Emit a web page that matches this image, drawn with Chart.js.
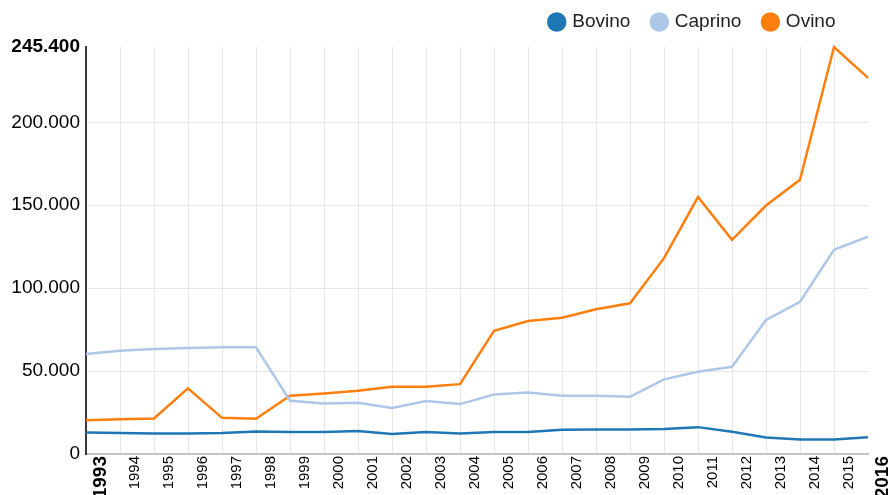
<!DOCTYPE html>
<html>
<head>
<meta charset="utf-8">
<script src="https://cdn.jsdelivr.net/npm/chart.js@4.4.1/dist/chart.umd.min.js"></script>
<style>
  html, body { margin: 0; padding: 0; background: #fff; }
  #wrap { width: 896px; height: 495px; position: relative; }
</style>
</head>
<body>
<div id="wrap"><canvas id="chart"></canvas></div>
<script>
const years = ["1993", "1994", "1995", "1996", "1997", "1998", "1999", "2000", "2001", "2002", "2003", "2004",
  "2005", "2006", "2007", "2008", "2009", "2010", "2011", "2012", "2013", "2014", "2015", "2016"];

const bovino = [13000, 12700, 12400, 12400, 12600, 13600, 13200, 13300, 13900, 12000, 13300, 12400,
  13300, 13300, 14600, 14800, 14800, 15000, 16200, 13400, 10000, 8800, 8800, 10100];

const caprino = [60300, 62300, 63300, 63900, 64300, 64300, 32100, 30500, 30900, 27800, 31900, 30100,
  35900, 37100, 35100, 35100, 34500, 45000, 49600, 52600, 80800, 91800, 123100, 131100];

const ovino = [20400, 21000, 21400, 39600, 21800, 21200, 35100, 36500, 38100, 40500, 40500, 42100,
  74300, 80200, 82200, 87300, 90900, 118100, 154900, 129100, 149800, 165300, 245400, 226800];

const yTicks = [0, 50000, 100000, 150000, 200000, 245400];

const fmt = (v) => String(v).replace(/\B(?=(\d{3})+(?!\d))/g, ".");
const FONT = "'Liberation Sans', Arial, sans-serif";

// sposta la legenda un po' a sinistra e in alto
const legendShift = {
  id: "legendShift",
  afterLayout(chart) {
    const lg = chart.legend;
    if (!lg) return;
    lg.left -= 9.5; lg.right -= 9.5;
    lg.top -= 5.5; lg.bottom -= 5.5;
  }
};

const line = (label, data, color) => ({
  label: label,
  data: data,
  borderColor: color,
  backgroundColor: color,
  borderWidth: 2.5,
  pointRadius: 0,
  pointHoverRadius: 0,
  tension: 0,
  fill: false,
  clip: 6,
});

new Chart(document.getElementById("chart").getContext("2d"), {
  type: "line",
  plugins: [legendShift],
  data: {
    labels: years,
    datasets: [
      line("Bovino", bovino, "#1f77b4"),
      line("Caprino", caprino, "#aec7e8"),
      line("Ovino", ovino, "#ff7f0e"),
    ],
  },
  options: {
    responsive: true,
    maintainAspectRatio: false,
    animation: false,
    layout: { padding: { top: -5, right: 28, left: 0, bottom: 0 } },
    plugins: {
      tooltip: { enabled: false },
      legend: {
        display: true,
        position: "top",
        align: "end",
        labels: {
          usePointStyle: true,
          pointStyle: "circle",
          boxWidth: 12,
          boxHeight: 12,
          padding: 23,
          color: "#222",
          font: { family: FONT, size: 19 },
        },
      },
    },
    scales: {
      x: {
        type: "category",
        afterFit: (scale) => { scale.height = 41; },
        grid: {
          drawTicks: false,
          color: (c) => (c.index === years.length - 1 ? "transparent" : "#e6e6e6"),
          lineWidth: 1,
        },
        border: { display: true, color: "#c4c4c4", width: 2 },
        ticks: {
          autoSkip: false,
          maxRotation: 90,
          minRotation: 90,
          padding: 2,
          labelOffset: 15,
          color: "#000",
          font: (c) => (c.index === 0 || c.index === years.length - 1
            ? { family: FONT, size: 19, weight: "bold" }
            : { family: FONT, size: 15 }),
        },
      },
      y: {
        min: 0,
        max: 245400,
        afterFit: (scale) => { scale.width = 86; },
        afterBuildTicks: (scale) => { scale.ticks = yTicks.map((v) => ({ value: v })); },
        grid: {
          drawTicks: false,
          color: (c) => (c.index === yTicks.length - 1 ? "transparent" : "#e6e6e6"),
          lineWidth: 1,
        },
        border: { display: true, color: "#3a3a3a", width: 2 },
        ticks: {
          padding: 6,
          color: "#000",
          callback: (v) => fmt(v),
          font: (c) => (c.index === yTicks.length - 1
            ? { family: FONT, size: 19, weight: "bold" }
            : { family: FONT, size: 19 }),
        },
      },
    },
  },
});
</script>
</body>
</html>
